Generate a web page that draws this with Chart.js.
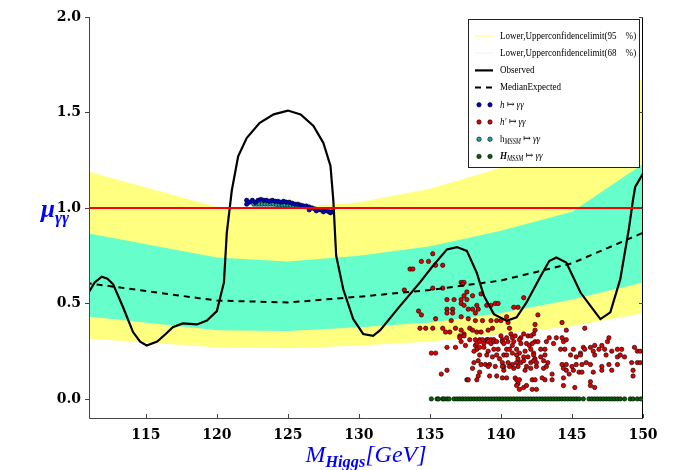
<!DOCTYPE html>
<html>
<head>
<meta charset="utf-8">
<script src="https://cdn.jsdelivr.net/npm/chart.js@4.4.0/dist/chart.umd.min.js"></script>
<style>
html, body { margin: 0; padding: 0; background: #fff; }
</style>
</head>
<body>
<canvas id="mychart" width="677" height="470"></canvas>
<script>
// mass points of the expected limit bands
var bandMass = [110, 120, 125, 130, 135, 140, 145, 150];
var upper95 = [1.21, 1.005, 1.0, 1.03, 1.10, 1.21, 1.38, 1.68];
var lower95 = [0.32, 0.27, 0.265, 0.28, 0.30, 0.34, 0.38, 0.45];
var upper68 = [0.88, 0.74, 0.72, 0.75, 0.80, 0.88, 0.98, 1.23];
var lower68 = [0.44, 0.36, 0.355, 0.375, 0.40, 0.45, 0.52, 0.61];
var medianExp = [0.615, 0.515, 0.505, 0.535, 0.57, 0.62, 0.71, 0.87];

// observed signal strength
var obsMass = [111.0, 111.4, 111.9, 112.3, 112.7, 113.4, 114.1, 114.6, 115.06, 115.8,
  116.4, 116.9, 117.6, 118.6, 119.3, 120.0, 120.5, 120.7, 121.05, 121.5,
  122.1, 123.0, 124.0, 125.0, 125.9, 126.8, 127.5, 128.0, 128.2, 128.4,
  128.9, 129.6, 130.3, 131.0, 131.5, 132.9, 134.3, 135.2, 136.2, 136.9,
  137.6, 138.3, 138.8, 139.5, 140.4, 141.1, 141.8, 142.8, 143.4, 143.9,
  144.6, 145.6, 146.3, 147.0, 147.7, 148.4, 149.0, 149.3, 149.45, 150.0];
var obsMu = [0.56, 0.61, 0.64, 0.63, 0.60, 0.48, 0.35, 0.30, 0.28, 0.30,
  0.34, 0.375, 0.395, 0.39, 0.41, 0.46, 0.61, 0.87, 1.09, 1.27,
  1.366, 1.445, 1.49, 1.51, 1.49, 1.43, 1.34, 1.22, 1.04, 0.75,
  0.574, 0.418, 0.34, 0.33, 0.36, 0.487, 0.61, 0.696, 0.783, 0.795,
  0.775, 0.66, 0.54, 0.444, 0.409, 0.427, 0.505, 0.644, 0.722, 0.74,
  0.714, 0.557, 0.487, 0.418, 0.453, 0.627, 0.888, 1.044, 1.11, 1.18];

var smLevel = 1.0;

// h -> gamma gamma
var hMass = [122.1, 122.1, 122.3, 122.5, 122.7, 122.9, 123.1, 123.3, 123.5, 123.7,
  123.9, 124.1, 124.3, 124.5, 124.7, 124.9, 125.1, 125.3, 125.5, 125.7,
  125.9, 126.1, 126.3, 126.5, 126.7, 126.9, 127.1, 127.3, 127.5, 127.7,
  127.9, 128.1, 126.5, 127.0, 127.5, 128.0];
var hMu = [1.04, 1.02, 1.03, 1.04, 1.03, 1.04, 1.045, 1.04, 1.04, 1.035,
  1.04, 1.035, 1.035, 1.03, 1.035, 1.03, 1.03, 1.025, 1.02, 1.02,
  1.015, 1.01, 1.01, 1.005, 1.0, 0.995, 0.99, 0.99, 0.985, 0.985,
  0.98, 0.98, 0.99, 0.985, 0.98, 0.975];

// h' -> gamma gamma
var hpMass = [135.2, 134.4, 134.9, 135.9, 133.6, 133.8, 135.4, 137.2, 137.4, 137.3,
  133.2, 135.2, 135.9, 137.6, 137.4, 138.0, 138.6, 136.2, 136.7, 137.2,
  137.6, 139.6, 139.8, 141.6, 134.2, 134.4, 136.2, 136.6, 136.2, 136.6,
  137.2, 137.4, 137.7, 138.0, 138.3, 138.4, 139.0, 139.3, 141.2, 140.9,
  138.2, 135.4, 136.5, 137.2, 137.7, 138.2, 138.7, 139.3, 139.7, 140.0,
  140.4, 140.5, 142.6, 144.3, 134.3, 134.7, 135.2, 135.9, 136.1, 136.4,
  136.8, 137.2, 137.4, 137.1, 137.8, 138.0, 138.3, 138.6, 139.1, 139.4,
  140.6, 141.6, 141.9, 142.4, 142.4, 142.3, 144.6, 145.9, 137.1, 137.4,
  137.8, 138.2, 138.5, 138.7, 139.0, 139.1, 139.3, 139.5, 140.0, 140.1,
  140.4, 140.7, 140.8, 141.0, 141.4, 142.1, 142.4, 142.6, 143.2, 143.4,
  143.9, 144.3, 144.4, 144.6, 137.2, 137.5, 138.2, 138.3, 138.5, 138.8,
  139.1, 139.3, 139.5, 139.7, 140.1, 140.2, 140.5, 140.8, 140.9, 141.3,
  141.4, 141.8, 142.0, 142.2, 143.7, 144.2, 144.5, 145.1, 145.8, 146.6,
  146.3, 147.1, 147.5, 147.6, 136.2, 136.8, 138.3, 138.5, 138.8, 139.1,
  139.5, 139.8, 140.4, 140.6, 141.1, 141.3, 141.7, 142.1, 142.3, 142.8,
  143.1, 145.9, 145.6, 146.5, 146.9, 147.3, 147.8, 148.2, 148.5, 149.4,
  149.6, 149.8, 135.1, 135.4, 138.1, 138.5, 139.0, 139.4, 139.7, 139.9,
  140.2, 140.4, 140.8, 141.1, 141.2, 141.6, 141.9, 142.3, 142.4, 142.8,
  143.1, 144.9, 145.3, 145.6, 146.6, 147.4, 148.2, 148.4, 148.7, 138.4,
  138.1, 138.6, 138.9, 139.2, 140.1, 140.2, 140.5, 140.8, 141.1, 141.4,
  141.6, 142.1, 142.3, 142.5, 143.0, 143.3, 144.3, 144.4, 144.6, 145.0,
  145.3, 145.7, 146.0, 146.3, 147.1, 147.6, 148.2, 149.2, 149.6, 149.8,
  136.2, 135.8, 138.0, 138.5, 138.4, 139.1, 139.6, 140.1, 140.2, 140.6,
  140.9, 141.2, 141.7, 141.8, 142.1, 142.5, 143.0, 143.2, 143.6, 144.6,
  144.8, 145.1, 145.5, 145.7, 146.5, 147.1, 147.8, 149.3, 149.3, 137.6,
  137.7, 138.3, 139.2, 139.7, 140.1, 140.4, 141.0, 141.1, 141.3, 141.2,
  141.1, 141.3, 141.6, 141.8, 142.2, 142.4, 142.2, 142.5, 143.1, 143.6,
  142.9, 144.4, 144.4, 145.2, 146.3, 146.3, 146.6];
var hpMu = [0.76, 0.72, 0.72, 0.70, 0.68, 0.68, 0.70, 0.61, 0.61, 0.60,
  0.57, 0.58, 0.58, 0.56, 0.54, 0.54, 0.55, 0.52, 0.52, 0.52,
  0.52, 0.50, 0.50, 0.53, 0.46, 0.44, 0.47, 0.47, 0.45, 0.45,
  0.50, 0.49, 0.47, 0.47, 0.49, 0.47, 0.49, 0.49, 0.48, 0.48,
  0.45, 0.42, 0.41, 0.43, 0.42, 0.41, 0.41, 0.41, 0.41, 0.41,
  0.43, 0.40, 0.44, 0.40, 0.37, 0.37, 0.37, 0.37, 0.35, 0.35,
  0.37, 0.36, 0.34, 0.33, 0.37, 0.36, 0.35, 0.35, 0.36, 0.37,
  0.37, 0.34, 0.33, 0.39, 0.36, 0.34, 0.36, 0.37, 0.32, 0.33,
  0.31, 0.31, 0.31, 0.31, 0.31, 0.31, 0.31, 0.31, 0.33, 0.31,
  0.32, 0.34, 0.32, 0.33, 0.32, 0.33, 0.30, 0.30, 0.30, 0.32,
  0.32, 0.32, 0.30, 0.31, 0.30, 0.28, 0.28, 0.29, 0.30, 0.29,
  0.30, 0.29, 0.30, 0.30, 0.30, 0.29, 0.30, 0.28, 0.30, 0.31,
  0.29, 0.29, 0.28, 0.29, 0.29, 0.26, 0.26, 0.26, 0.27, 0.28,
  0.27, 0.28, 0.30, 0.32, 0.27, 0.27, 0.26, 0.27, 0.27, 0.25,
  0.26, 0.26, 0.26, 0.26, 0.26, 0.24, 0.25, 0.26, 0.24, 0.26,
  0.26, 0.26, 0.24, 0.25, 0.26, 0.26, 0.25, 0.26, 0.26, 0.27,
  0.25, 0.25, 0.24, 0.24, 0.25, 0.23, 0.23, 0.22, 0.23, 0.21,
  0.23, 0.23, 0.24, 0.23, 0.21, 0.22, 0.22, 0.23, 0.21, 0.22,
  0.23, 0.23, 0.22, 0.23, 0.23, 0.23, 0.22, 0.23, 0.22, 0.20,
  0.19, 0.18, 0.18, 0.18, 0.19, 0.17, 0.19, 0.18, 0.19, 0.19,
  0.20, 0.19, 0.20, 0.19, 0.20, 0.19, 0.18, 0.16, 0.18, 0.17,
  0.18, 0.18, 0.19, 0.18, 0.17, 0.18, 0.18, 0.19, 0.19, 0.19,
  0.15, 0.13, 0.16, 0.14, 0.12, 0.17, 0.17, 0.17, 0.15, 0.17,
  0.16, 0.17, 0.15, 0.17, 0.16, 0.17, 0.16, 0.17, 0.13, 0.15,
  0.13, 0.15, 0.14, 0.14, 0.14, 0.15, 0.15, 0.15, 0.12, 0.10,
  0.10, 0.10, 0.12, 0.12, 0.11, 0.11, 0.11, 0.10, 0.10, 0.08,
  0.07, 0.05, 0.06, 0.07, 0.10, 0.10, 0.05, 0.05, 0.10, 0.10,
  0.11, 0.11, 0.07, 0.06, 0.09, 0.07, 0.06];

// h_MSSM -> gamma gamma
var hmMass = [122.6, 122.8, 123.0, 123.2, 123.4, 123.6, 123.8, 124.0, 124.2, 124.4,
  124.6, 124.8, 125.0, 125.2, 125.4, 125.6, 125.8, 126.0];
var hmMu = [1.02, 1.02, 1.02, 1.02, 1.02, 1.02, 1.02, 1.02, 1.018, 1.018,
  1.016, 1.016, 1.015, 1.014, 1.013, 1.012, 1.011, 1.01];

// H_MSSM -> gamma gamma
var HmMass = [135.1, 135.5, 135.6, 135.9, 136.0, 136.2, 136.35, 136.7, 136.9, 137.1,
  137.3, 137.5, 137.7, 137.9, 138.1, 138.3, 138.5, 138.7, 138.9, 139.1,
  139.3, 139.5, 139.7, 139.9, 140.1, 140.3, 140.5, 140.7, 140.9, 141.1,
  141.3, 141.5, 141.7, 141.9, 142.1, 142.3, 142.5, 142.7, 142.9, 143.1,
  143.3, 143.5, 143.7, 143.9, 144.1, 144.3, 144.5, 144.7, 144.9, 145.1,
  145.3, 145.5, 145.8, 146.2, 146.4, 146.6, 146.8, 147.0, 147.2, 147.4,
  147.6, 147.8, 148.0, 148.2, 148.4, 148.7, 149.1, 149.3, 149.6, 149.85];
var HmMu = [0, 0, 0, 0, 0, 0, 0, 0, 0, 0,
  0, 0, 0, 0, 0, 0, 0, 0, 0, 0,
  0, 0, 0, 0, 0, 0, 0, 0, 0, 0,
  0, 0, 0, 0, 0, 0, 0, 0, 0, 0,
  0, 0, 0, 0, 0, 0, 0, 0, 0, 0,
  0, 0, 0, 0, 0, 0, 0, 0, 0, 0,
  0, 0, 0, 0, 0, 0, 0, 0, 0, 0];

// axis ticks
var massTicks = [115, 120, 125, 130, 135, 140, 145, 150];
var muTicks = [0.0, 0.5, 1.0, 1.5, 2.0];

var SERIF = '"Liberation Serif", "DejaVu Serif", serif';

function pts(xs, ys) {
  return xs.map(function (x, i) { return { x: x, y: ys[i] }; });
}

// draw a run of text pieces: [text, style]; style r / i / bi / sub / bsub
function drawRich(ctx, parts, x, y, size, sx, subDrop) {
  parts.forEach(function (p) {
    var txt = p[0], st = p[1] || 'r';
    var fs = size, dy = 0, font;
    if (st === 'sub' || st === 'bsub') { fs = size * 0.68; dy = size * (subDrop || 0.28); }
    if (st === 'r') font = fs + 'px ' + SERIF;
    else if (st === 'i' || st === 'sub') font = 'italic ' + fs + 'px ' + SERIF;
    else font = 'italic bold ' + fs + 'px ' + SERIF;
    ctx.font = font;
    ctx.save();
    ctx.translate(x, y + dy);
    ctx.scale(sx, 1);
    ctx.fillText(txt, 0, 0);
    ctx.restore();
    x += ctx.measureText(txt).width * sx;
  });
  return x;
}

// frame, inward/outward tick marks, axis titles
var framePlugin = {
  id: 'frame',
  afterDatasetsDraw: function (chart) {
    var ctx = chart.ctx, a = chart.chartArea;
    var xs = chart.scales.x, ys = chart.scales.y;
    ctx.save();
    ctx.lineWidth = 1;
    ctx.strokeStyle = '#444';
    ctx.beginPath();
    ctx.moveTo(a.left + 0.5, a.top);
    ctx.lineTo(a.left + 0.5, a.bottom + 0.5);
    ctx.lineTo(a.right, a.bottom + 0.5);
    ctx.stroke();
    ctx.strokeStyle = '#000';
    ctx.beginPath();
    ctx.moveTo(a.right - 0.5, a.bottom);
    ctx.lineTo(a.right - 0.5, a.top);
    ctx.stroke();
    ctx.strokeStyle = '#444';
    ctx.beginPath();
    massTicks.forEach(function (v) {
      var px = Math.round(xs.getPixelForValue(v)) + 0.5;
      ctx.moveTo(px, a.bottom);
      ctx.lineTo(px, a.bottom - 4);
    });
    muTicks.forEach(function (v) {
      var py = Math.round(ys.getPixelForValue(v)) + 0.5;
      ctx.moveTo(a.left - 4, py);
      ctx.lineTo(a.left, py);
      ctx.moveTo(a.right, py);
      ctx.lineTo(a.right - 4, py);
    });
    ctx.stroke();
    ctx.restore();
  },
  afterDraw: function (chart) {
    var ctx = chart.ctx, a = chart.chartArea;
    ctx.save();
    ctx.fillStyle = '#0000ff';
    ctx.textBaseline = 'alphabetic';
    drawRich(ctx, [['\u03bc', 'bi'], ['\u03b3\u03b3', 'bsub']], 41, 217, 25, 1, 0.22);
    var title = [['M', 'i'], ['Higgs', 'bsub'], ['[GeV]', 'i']];
    ctx.globalAlpha = 0;
    var w = drawRich(ctx, title, 0, -100, 24, 1, 0.2);
    ctx.globalAlpha = 1;
    drawRich(ctx, title, (a.left + a.right) / 2 - w / 2, 462, 24, 1, 0.2);
    ctx.restore();
  }
};

// boxed legend with math labels
var legendPlugin = {
  id: 'mathLegend',
  afterDraw: function (chart) {
    var ctx = chart.ctx;
    var bx = 468.5, by = 19.5, bw = 171, bh = 148;
    ctx.save();
    ctx.fillStyle = '#fff';
    ctx.fillRect(bx, by, bw, bh);
    ctx.strokeStyle = '#222';
    ctx.lineWidth = 1;
    ctx.strokeRect(bx, by, bw, bh);
    var row = 0;
    chart.data.datasets.forEach(function (ds) {
      if (!ds.legendParts) return;
      var y = 36 + row * 17.2;
      ctx.save();
      if (ds.showLine === false) {
        [479, 490].forEach(function (cx) {
          ctx.beginPath();
          ctx.arc(cx, y, 2.2, 0, Math.PI * 2);
          ctx.fillStyle = ds.backgroundColor;
          ctx.fill();
          ctx.lineWidth = 0.6;
          ctx.strokeStyle = '#000';
          ctx.stroke();
        });
      } else {
        ctx.strokeStyle = ds.legendColor || ds.borderColor;
        ctx.lineWidth = ds.legendWidth || ds.borderWidth;
        ctx.setLineDash(ds.borderDash || []);
        ctx.beginPath();
        ctx.moveTo(475, y);
        ctx.lineTo(493, y);
        ctx.stroke();
      }
      ctx.restore();
      ctx.fillStyle = '#000';
      ctx.textBaseline = 'middle';
      drawRich(ctx, ds.legendParts, 500, y, 11, 0.82);
      row++;
    });
    ctx.restore();
  }
};

var myChart = document.getElementById('mychart');

new Chart(myChart, {
  type: 'line',
  data: {
    datasets: [
      {
        // 95% band
        data: pts(bandMass, upper95), fill: '+1', backgroundColor: '#ffff80',
        borderWidth: 0, pointRadius: 0, order: 3,
        legendParts: [['Lower,Upperconfidencelimit(95\u2003%)', 'r']],
        legendColor: '#ffff99', legendWidth: 1.5
      },
      { data: pts(bandMass, lower95), fill: false, borderWidth: 0, pointRadius: 0, order: 3 },
      {
        // 68% band
        data: pts(bandMass, upper68), fill: '+1', backgroundColor: '#66ffcc',
        borderWidth: 0, pointRadius: 0, order: 2,
        legendParts: [['Lower,Upperconfidencelimit(68\u2003%)', 'r']],
        legendColor: '#eefaf5', legendWidth: 1.5
      },
      { data: pts(bandMass, lower68), fill: false, borderWidth: 0, pointRadius: 0, order: 2 },
      {
        // SM reference line
        data: [{ x: 110, y: smLevel }, { x: 151, y: smLevel }],
        borderColor: '#ff0000', borderWidth: 2, pointRadius: 0, fill: false, order: 0
      },
      {
        data: pts(obsMass, obsMu), borderColor: '#000', borderWidth: 2.2,
        pointRadius: 0, fill: false, tension: 0, order: 0,
        legendParts: [['Observed', 'r']]
      },
      {
        data: pts(bandMass, medianExp), borderColor: '#000', borderWidth: 2,
        borderDash: [6, 5], pointRadius: 0, fill: false, order: 0,
        legendParts: [['MedianExpected', 'r']]
      },
      {
        data: pts(hMass, hMu), showLine: false, pointRadius: 2.2, pointStyle: 'circle',
        backgroundColor: '#0000c8', borderColor: '#000', borderWidth: 0.6, order: 1,
        legendParts: [['h', 'i'], [' \u21a6 ', 'r'], ['\u03b3\u03b3', 'i']]
      },
      {
        data: pts(hpMass, hpMu), showLine: false, pointRadius: 2.2, pointStyle: 'circle',
        backgroundColor: '#e00000', borderColor: '#000', borderWidth: 0.6, order: 1,
        legendParts: [['h\u2032', 'i'], [' \u21a6 ', 'r'], ['\u03b3\u03b3', 'i']]
      },
      {
        data: pts(hmMass, hmMu), showLine: false, pointRadius: 2.2, pointStyle: 'circle',
        backgroundColor: '#1aa6a6', borderColor: '#000', borderWidth: 0.6, order: 1,
        legendParts: [['h', 'r'], ['MSSM', 'sub'], [' \u21a6 ', 'r'], ['\u03b3\u03b3', 'i']]
      },
      {
        data: pts(HmMass, HmMu), showLine: false, pointRadius: 2.2, pointStyle: 'circle',
        backgroundColor: '#006400', borderColor: '#000', borderWidth: 0.6, order: 1,
        legendParts: [['H', 'bi'], ['MSSM', 'sub'], [' \u21a6 ', 'r'], ['\u03b3\u03b3', 'i']]
      }
    ]
  },
  options: {
    responsive: false,
    animation: false,
    devicePixelRatio: 1,
    layout: { padding: { top: 17, right: 34, left: 0, bottom: 0 } },
    plugins: { legend: { display: false }, tooltip: { enabled: false } },
    scales: {
      x: {
        type: 'linear', min: 111, max: 150,
        afterBuildTicks: function (s) { s.ticks = massTicks.map(function (v) { return { value: v }; }); },
        afterFit: function (s) { s.height = 52; },
        grid: { display: false, drawTicks: false },
        border: { display: false },
        ticks: { color: '#000', padding: 9, font: { family: 'DejaVu Serif', weight: 'bold', size: 14 } }
      },
      y: {
        type: 'linear', min: -0.1, max: 2.0,
        afterBuildTicks: function (s) { s.ticks = muTicks.map(function (v) { return { value: v }; }); },
        afterFit: function (s) { s.width = 89; },
        grid: { display: false, drawTicks: false },
        border: { display: false },
        ticks: {
          color: '#000', padding: 8, font: { family: 'DejaVu Serif', weight: 'bold', size: 14 },
          callback: function (v) { return Number(v).toFixed(1); }
        }
      }
    }
  },
  plugins: [framePlugin, legendPlugin]
});
</script>
</body>
</html>
